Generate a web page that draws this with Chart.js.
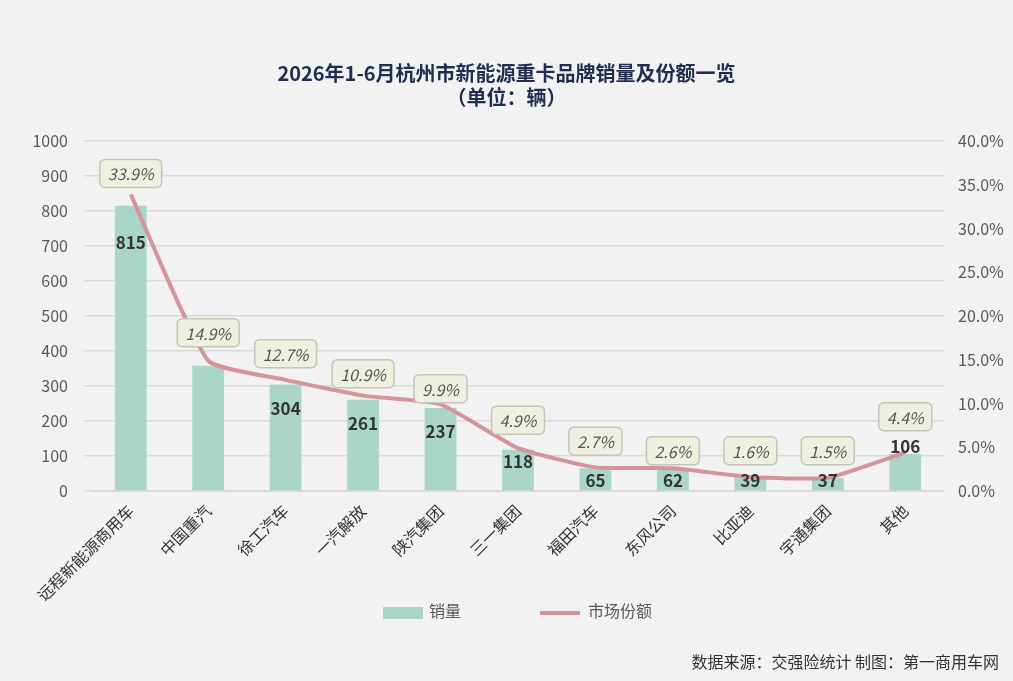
<!DOCTYPE html>
<html><head><meta charset="utf-8">
<script src="https://cdn.jsdelivr.net/npm/chart.js@4"></script>
<style>
html,body{margin:0;padding:0;background:#f2f2f2;}
#wrap{position:relative;width:1013px;height:681px;font-family:'Noto Sans CJK SC',sans-serif;}
#src{position:absolute;right:14px;bottom:8px;font-size:16px;color:#333;}
.lg{position:absolute;top:599px;font-size:16px;color:#595959;line-height:22px;}
.lg i{display:inline-block;vertical-align:middle;margin-right:6px;}
</style></head>
<body><div id="wrap"><canvas id="c" width="1013" height="681"></canvas>
<div class="lg" style="left:383px"><i style="width:40px;height:12px;background:#a9d6c9"></i>销量</div>
<div class="lg" style="left:540px"><i style="width:40px;height:4px;background:#d4949a;margin-right:8px"></i>市场份额</div>
<div id="src">数据来源：交强险统计 制图：第一商用车网</div></div>
<script>
const brands = ['远程新能源商用车','中国重汽','徐工汽车','一汽解放','陕汽集团','三一集团','福田汽车','东风公司','比亚迪','宇通集团','其他'];
const sales = [815, 358, 304, 261, 237, 118, 65, 62, 39, 37, 106];
const share = [33.9, 14.9, 12.7, 10.9, 9.9, 4.9, 2.7, 2.6, 1.6, 1.5, 4.4];
const salesLabelAt = [711, 451, 237, 194, 169, 83, 29, 29, 29, 29, 126];
const shareLabelAt = [36.3, 18.1, 15.7, 13.4, 11.7, 8.1, 5.7, 4.6, 4.6, 4.6, 8.5];
const font = "'Noto Sans CJK SC', sans-serif";

const labelPlugin = {
  id: 'labels',
  afterDatasetsDraw(chart) {
    const ctx = chart.ctx, x = chart.scales.x, y = chart.scales.y, y1 = chart.scales.y1;
    ctx.save();
    ctx.textAlign = 'center'; ctx.textBaseline = 'middle';
    ctx.font = 'bold 17px ' + font; ctx.fillStyle = '#333';
    sales.forEach((v, i) => ctx.fillText(String(v), x.getPixelForValue(i), y.getPixelForValue(salesLabelAt[i])));
    ctx.font = 'italic 16px ' + font;
    share.forEach((v, i) => {
      const t = v.toFixed(1) + '%';
      const cx = x.getPixelForValue(i), cy = y1.getPixelForValue(shareLabelAt[i]);
      const w = ctx.measureText(t).width + 16, h = 28;
      ctx.beginPath(); ctx.roundRect(cx - w / 2, cy - h / 2, w, h, 5);
      ctx.fillStyle = '#f0f0e2'; ctx.fill();
      ctx.strokeStyle = '#c5c5b5'; ctx.lineWidth = 1.5; ctx.stroke();
      ctx.fillStyle = '#555'; ctx.fillText(t, cx, cy + 1);
    });
    ctx.restore();
  }
};

new Chart(document.getElementById('c'), {
  data: {
    labels: brands,
    datasets: [
      { type: 'line', label: '市场份额', data: share, yAxisID: 'y1', borderColor: '#d4949a',
        borderWidth: 4, pointRadius: 0, tension: 0.15, order: 0 },
      { type: 'bar', label: '销量', data: sales, yAxisID: 'y', backgroundColor: '#a9d6c9',
        barPercentage: 0.41, categoryPercentage: 1, order: 1 }
    ]
  },
  options: {
    responsive: false, animation: false,
    layout: { padding: { left: 0, right: 0, top: 0, bottom: 80 } },
    plugins: {
      title: { display: true, text: ['2026年1-6月杭州市新能源重卡品牌销量及份额一览', '（单位：辆）'],
        color: '#1f2d4e', font: { family: font, size: 20, weight: 'bold' }, padding: { top: 61, bottom: 32 }, lineHeight: 1.4 },
      legend: { display: false },
      tooltip: { enabled: false }
    },
    scales: {
      x: { grid: { display: false }, border: { color: '#d9d9d9' },
        afterFit: s => { s.height = 110; },
        ticks: { color: '#333', font: { family: font, size: 16 }, padding: 2, maxRotation: 45, minRotation: 45, autoSkip: false } },
      y: { min: 0, max: 1000, position: 'left', grid: { color: '#dadada', lineWidth: 1.5 }, border: { display: false },
        afterFit: s => { s.width = 92; },
        ticks: { stepSize: 100, color: '#595959', font: { family: font, size: 16 }, padding: 16, callback: v => String(v) } },
      y1: { min: 0, max: 40, position: 'right', grid: { display: false }, border: { display: false },
        afterFit: s => { s.width = 69; },
        ticks: { stepSize: 5, color: '#595959', font: { family: font, size: 16 }, padding: 6, callback: v => v.toFixed(1) + '%' } }
    }
  },
  plugins: [labelPlugin]
});
</script></body></html>
